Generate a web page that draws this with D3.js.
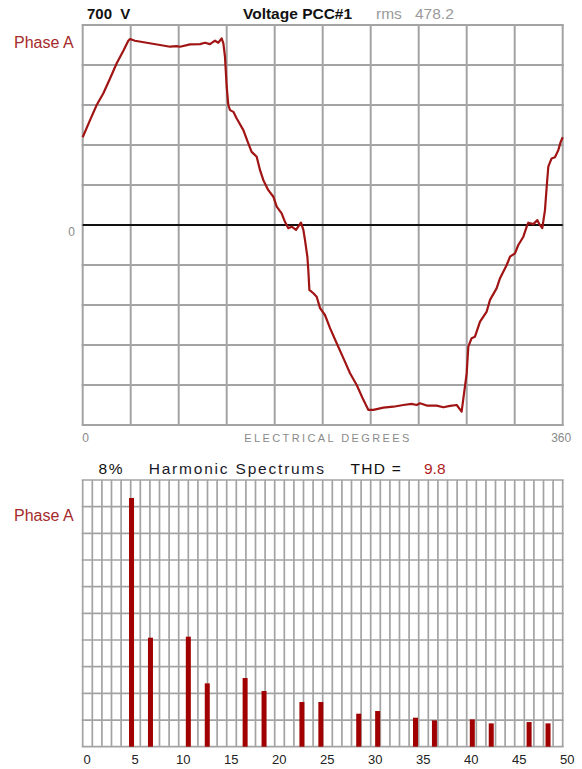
<!DOCTYPE html>
<html>
<head>
<meta charset="utf-8">
<script src="https://cdn.jsdelivr.net/npm/d3@7"></script>
<style>
  html, body { margin: 0; padding: 0; background: #fff; }
  svg { display: block; font-family: "Liberation Sans", Arial, sans-serif; }
  text { white-space: pre; }
</style>
</head>
<body>
<svg id="chart" width="582" height="769"></svg>
<script>
// ---- Waveform data (electrical degrees, volts) ----
const waveDeg = [0,5.5,10.5,15.5,20.5,25.5,30.5,34.2,35.5,39.2,48,58,65.5,70.5,73,80.5,88,91.7,95.5,99.2,101.7,104.2,105.5,106.7,108,109.2,110.5,113,115.5,120.5,124.2,126.7,130.5,133,135.5,139.2,143,145.5,149.2,151.7,154.2,156.7,160,163.7,165.5,166.7,168.5,169.2,170,173,175.5,178,181.7,185.5,190.5,195.5,200.5,205.5,210.5,214.2,218,225.5,233,240.5,246.7,250.5,253,258,265.5,270.5,275.5,280.5,284.2,286,288,289.2,291.7,294.2,298,303,305.5,310.5,313,318,320.5,324.2,326.7,330.5,333,334.2,338,341,342.5,344.7,346.7,348,349.2,351.7,354.2,356.7,358.5,360];
const waveVolts = [307,367,420,461,513,566,610,645,651,645,638,630,624,626,624,632,633,638,633,645,638,653,636,589,484,420,402,396,373,332,286,256,239,192,157,122,99,64,41,11,-11,-6,-17,8,-17,-52,-111,-157,-227,-239,-251,-291,-315,-361,-414,-466,-519,-560,-612,-647,-647,-639,-636,-630,-626,-630,-624,-632,-632,-638,-633,-630,-653,-589,-519,-426,-396,-391,-338,-303,-262,-221,-186,-140,-111,-99,-70,-41,-6,8,3,17,3,-11,52,134,204,233,237,262,291,307];

// ---- Harmonic spectrum data (harmonic order, % of fundamental) ----
const harmonicOrders = [5,7,11,13,17,19,23,25,29,31,35,37,41,43,47,49];
const harmonicPct    = [7.46,3.27,3.30,1.90,2.06,1.67,1.34,1.34,0.99,1.07,0.87,0.79,0.82,0.70,0.74,0.70];
const harmonicTicks  = [0,5,10,15,20,25,30,35,40,45,50];
const degreeTicks    = [0,360];

// ---- Texts ----
const topScaleLabel = "700  V";
const topTitle = "Voltage PCC#1";
const rmsLabel = "rms";
const rmsValue = "478.2";
const phaseLabel = "Phase A";
const bottomScaleLabel = "8%";
const bottomTitle = "Harmonic Spectrums";
const thdLabel = "THD =";
const thdValue = "9.8";
const xTitle = "ELECTRICAL DEGREES";

const svg = d3.select("#chart");
const GRID = "#a3a3a3";
const RED = "#a01414";

// ---- Top chart ----
const T = {l: 82.7, r: 562.7, t: 25, b: 425};
const xDeg = d3.scaleLinear().domain([0, 360]).range([T.l, T.r]);
const yV = d3.scaleLinear().domain([-700, 700]).range([T.b, T.t]);

const gTop = svg.append("g");
gTop.append("g").selectAll("line").data(d3.range(0, 361, 36)).join("line")
  .attr("x1", d => xDeg(d)).attr("x2", d => xDeg(d))
  .attr("y1", T.t).attr("y2", T.b)
  .attr("stroke", GRID).attr("stroke-width", 2);
gTop.append("g").selectAll("line").data(d3.range(-700, 701, 140)).join("line")
  .attr("x1", T.l - 1).attr("x2", T.r + 1)
  .attr("y1", d => yV(d)).attr("y2", d => yV(d))
  .attr("stroke", GRID).attr("stroke-width", 2);
gTop.append("line")
  .attr("x1", xDeg(0)).attr("x2", xDeg(360))
  .attr("y1", yV(0)).attr("y2", yV(0))
  .attr("stroke", "#111").attr("stroke-width", 2);

const line = d3.line().x((d, i) => xDeg(waveDeg[i])).y(d => yV(d));
gTop.append("path").datum(waveVolts)
  .attr("d", line).attr("fill", "none")
  .attr("stroke", RED).attr("stroke-width", 2.2).attr("stroke-linejoin", "round");

// zero label
gTop.append("text").attr("x", 75).attr("y", yV(0) + 11)
  .attr("text-anchor", "end").attr("font-size", 12).attr("fill", "#8a8a8a").text("0");

// degree axis labels
const axDeg = gTop.append("g").attr("transform", `translate(0,${T.b})`)
  .call(d3.axisBottom(xDeg).tickValues(degreeTicks).tickSize(0).tickPadding(8).tickFormat(d3.format("d")));
axDeg.select(".domain").remove();
axDeg.selectAll("text").attr("font-size", 12).attr("fill", "#8a8a8a")
  .attr("font-family", "Liberation Sans, Arial, sans-serif")
  .attr("dx", d => d === 0 ? 2.5 : -2);
gTop.append("text").attr("x", 328).attr("y", 442)
  .attr("text-anchor", "middle").attr("font-size", 11).attr("letter-spacing", 2.4)
  .attr("fill", "#8a8a8a").text(xTitle);

// top header
svg.append("text").attr("x", 87).attr("y", 19).attr("font-size", 15).attr("font-weight", "bold").attr("fill", "#111").text(topScaleLabel);
svg.append("text").attr("x", 243).attr("y", 19).attr("font-size", 15.5).attr("font-weight", "bold").attr("fill", "#111").text(topTitle);
svg.append("text").attr("x", 376).attr("y", 19).attr("font-size", 15.5).attr("fill", "#999").text(rmsLabel);
svg.append("text").attr("x", 415).attr("y", 19).attr("font-size", 15.5).attr("fill", "#999").text(rmsValue);
svg.append("text").attr("x", 14).attr("y", 48).attr("font-size", 16).attr("fill", "#a52a2a").text(phaseLabel);

// ---- Bottom chart ----
const B = {l: 82.7, r: 562.7, t: 480, b: 746.7};
const xH = d3.scaleLinear().domain([0, 50]).range([B.l, B.r]);
const xBar = d3.scaleLinear().domain([0, 50]).range([B.l - 1, B.l - 1 + 473.3]);
const yP = d3.scaleLinear().domain([0, 8]).range([B.b, B.t]);

const gBot = svg.append("g");
gBot.append("g").selectAll("line").data(d3.range(0, 51, 1)).join("line")
  .attr("x1", d => xH(d)).attr("x2", d => xH(d))
  .attr("y1", B.t).attr("y2", B.b)
  .attr("stroke", GRID).attr("stroke-width", 1.7);
gBot.append("g").selectAll("line").data(d3.range(0, 11, 1).map(i => i * 0.8)).join("line")
  .attr("x1", B.l - 1).attr("x2", B.r + 1)
  .attr("y1", d => yP(d)).attr("y2", d => yP(d))
  .attr("stroke", GRID).attr("stroke-width", 1.7);

gBot.append("g").selectAll("rect").data(harmonicOrders).join("rect")
  .attr("x", d => xBar(d)).attr("width", 5)
  .attr("y", (d, i) => yP(harmonicPct[i]))
  .attr("height", (d, i) => yP(0) - yP(harmonicPct[i]))
  .attr("fill", "#a00000");

const axH = gBot.append("g").attr("transform", `translate(0,${B.b})`)
  .call(d3.axisBottom(xH).tickValues(harmonicTicks).tickSize(0).tickPadding(8).tickFormat(d3.format("d")));
axH.select(".domain").remove();
axH.selectAll("text").attr("font-size", 13).attr("fill", "#222").attr("dx", 4)
  .attr("font-family", "Liberation Sans, Arial, sans-serif");

// bottom header
svg.append("text").attr("x", 98.5).attr("y", 474).attr("font-size", 15.5).attr("letter-spacing", 1.6).attr("fill", "#111").text(bottomScaleLabel);
svg.append("text").attr("x", 148.7).attr("y", 474).attr("font-size", 15.5).attr("letter-spacing", 1.8).attr("fill", "#1a1a2a").text(bottomTitle);
svg.append("text").attr("x", 350.5).attr("y", 474).attr("font-size", 15.5).attr("letter-spacing", 1.3).attr("fill", "#111").text(thdLabel);
svg.append("text").attr("x", 424).attr("y", 474).attr("font-size", 15.5).attr("fill", "#b01c1c").text(thdValue);
svg.append("text").attr("x", 14).attr("y", 521).attr("font-size", 16).attr("fill", "#a52a2a").text(phaseLabel);
</script>
</body>
</html>
